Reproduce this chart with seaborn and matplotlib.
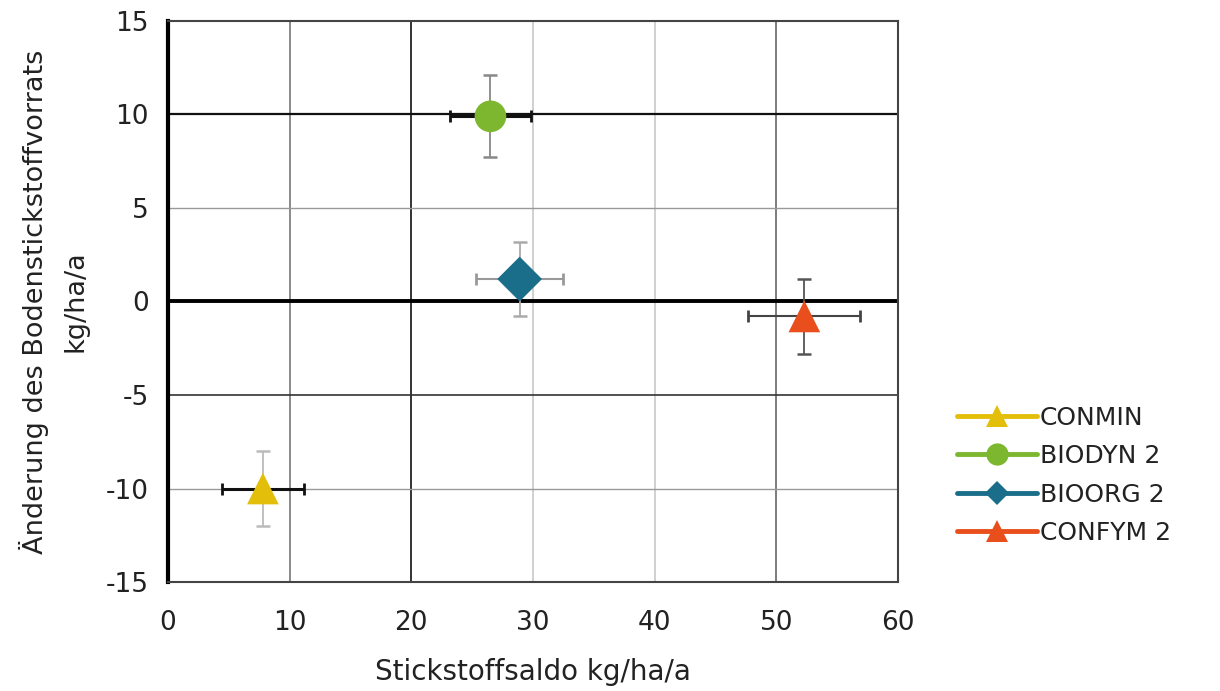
import matplotlib
matplotlib.use("Agg")
import matplotlib.pyplot as plt
from matplotlib.lines import Line2D
import seaborn as sns
import pandas as pd

# Data
treatments = ["CONMIN", "BIODYN 2", "BIOORG 2", "CONFYM 2"]
n_saldo = [7.8, 26.5, 28.9, 52.3]          # x: Stickstoffsaldo kg/ha/a
n_saldo_err = [3.4, 3.3, 3.6, 4.6]
delta_stock = [-10.0, 9.9, 1.2, -0.8]      # y: Änderung des Bodenstickstoffvorrats
delta_stock_err = [2.0, 2.2, 2.0, 2.0]

x_ticks = [0, 10, 20, 30, 40, 50, 60]
y_ticks = [-15, -10, -5, 0, 5, 10, 15]

colors = {"CONMIN": "#E3BE0A", "BIODYN 2": "#7DB72F",
          "BIOORG 2": "#1B6E8A", "CONFYM 2": "#E84F1C"}
markers = {"CONMIN": "^", "BIODYN 2": "o", "BIOORG 2": "D", "CONFYM 2": "^"}
xerr_colors = {"CONMIN": "#111111", "BIODYN 2": "#111111",
               "BIOORG 2": "#999999", "CONFYM 2": "#444444"}
yerr_colors = {"CONMIN": "#BBBBBB", "BIODYN 2": "#888888",
               "BIOORG 2": "#AAAAAA", "CONFYM 2": "#555555"}

df = pd.DataFrame({"Behandlung": treatments, "x": n_saldo, "xerr": n_saldo_err,
                   "y": delta_stock, "yerr": delta_stock_err})

sns.set_style("white")
plt.rcParams["font.family"] = ["DejaVu Sans"]

fig = plt.figure(figsize=(12.2, 6.91), dpi=100)
ax = fig.add_axes([0.1377, 0.1577, 0.5984, 0.812])

# grid lines with varying tones as in the reference
vcol = {10: "#777777", 20: "#111111", 30: "#C8C8C8", 40: "#C8C8C8", 50: "#666666"}
for xv, c in vcol.items():
    ax.axvline(xv, color=c, lw=1.2, zorder=0)
hcol = {10: ("#111111", 1.6), 5: ("#999999", 1.0), -5: ("#333333", 1.2),
        -10: ("#999999", 1.0)}
for yv, (c, w) in hcol.items():
    ax.axhline(yv, color=c, lw=w, zorder=0)
ax.axhline(0, color="#000000", lw=2.8, zorder=0.5)

for _, r in df.iterrows():
    t = r["Behandlung"]
    ax.errorbar(r["x"], r["y"], xerr=r["xerr"], fmt="none",
                ecolor=xerr_colors[t], elinewidth=2.2 if xerr_colors[t] == "#111111" else 1.5,
                capsize=4, capthick=2, zorder=2)
    ax.errorbar(r["x"], r["y"], yerr=r["yerr"], fmt="none",
                ecolor=yerr_colors[t], elinewidth=1.3, capsize=5, capthick=1.8, zorder=2)

sns.scatterplot(data=df, x="x", y="y", hue="Behandlung", style="Behandlung",
                palette=colors, markers=markers, s=520, edgecolor="none",
                legend=False, ax=ax, zorder=3)

ax.set_xlim(0, 60)
ax.set_ylim(-15, 15)
ax.set_xticks(x_ticks)
ax.set_yticks(y_ticks)
ax.set_xticklabels([str(v) for v in x_ticks])
ax.set_yticklabels([str(v) for v in y_ticks])
ax.tick_params(axis="both", length=0, labelsize=19, colors="#222222")
ax.tick_params(axis="x", pad=20)
ax.tick_params(axis="y", pad=14)

for side in ["top", "right", "bottom"]:
    ax.spines[side].set_color("#444444")
    ax.spines[side].set_linewidth(1.5)
ax.spines["left"].set_color("#000000")
ax.spines["left"].set_linewidth(3)

ax.set_xlabel("Stickstoffsaldo kg/ha/a", fontsize=20, color="#222222", labelpad=16)
ax.set_ylabel("Änderung des Bodenstickstoffvorrats\nkg/ha/a", fontsize=19.5,
              color="#222222", labelpad=12, linespacing=1.7)

handles = [Line2D([0], [0], color=colors[t], lw=3.5, marker=markers[t],
                  markersize=16 if markers[t] != "D" else 12, markeredgewidth=0)
           for t in treatments]
fig.legend(handles, treatments, loc="center left", bbox_to_anchor=(0.766, 0.312),
           frameon=False, fontsize=18, handlelength=3.2, handletextpad=0.12,
           labelspacing=0.58, labelcolor="#222222")

fig.savefig("out.png", dpi=100)
